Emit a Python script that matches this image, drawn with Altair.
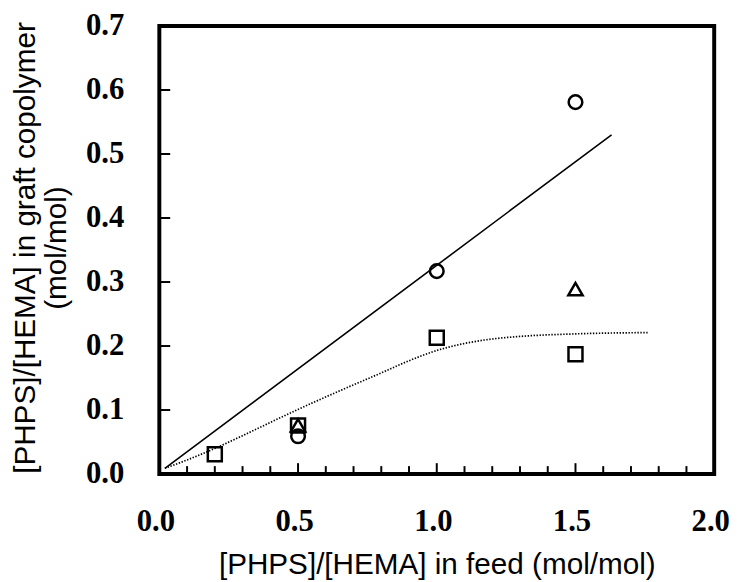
import altair as alt
import pandas as pd

# ---- data ----
circle_feed = [0.5, 1.0, 1.5]
circle_graft = [0.059, 0.317, 0.581]

triangle_feed = [0.5, 1.5]
triangle_graft = [0.076, 0.289]

square_feed = [0.2, 0.5, 1.0, 1.5]
square_graft = [0.031, 0.076, 0.213, 0.187]

solid_feed = [0.02, 1.63]
solid_graft = [0.009, 0.530]

dotted_feed = [0.02, 0.1, 0.2, 0.3, 0.5, 0.65, 0.8, 0.9, 1.0, 1.1, 1.2, 1.3, 1.5, 1.76]
dotted_graft = [0.009, 0.022, 0.040, 0.060, 0.101, 0.130, 0.158, 0.177, 0.193, 0.204, 0.211, 0.215, 0.219, 0.221]

x_tick_labels = [0.0, 0.5, 1.0, 1.5, 2.0]
y_tick_labels = [0.0, 0.1, 0.2, 0.3, 0.4, 0.5, 0.6, 0.7]
x_minor_ticks = [0.1, 0.2, 0.3, 0.4, 0.6, 0.7, 0.8, 0.9, 1.1, 1.2, 1.3, 1.4, 1.6, 1.7, 1.8, 1.9]
x_major_ticks = [0.5, 1.0, 1.5]
y_inner_ticks = [0.1, 0.2, 0.3, 0.4, 0.5, 0.6]
x_range = [0.0, 2.0]
y_range = [0.0, 0.7]

x_title = "[PHPS]/[HEMA] in feed (mol/mol)"
y_title = ["[PHPS]/[HEMA] in graft copolymer", "(mol/mol)"]

# ---- scales and axes ----
xscale = alt.Scale(domain=x_range, nice=False, zero=True)
yscale = alt.Scale(domain=y_range, nice=False, zero=True)

xaxis = alt.Axis(
    values=x_tick_labels, format=".1f", title=x_title,
    labelFont="Liberation Serif", labelFontWeight="bold", labelFontSize=31,
    labelPadding=33, labelFlush=False, labelOverlap=False, labelOffset=-4,
    titleFont="Liberation Sans", titleFontSize=30, titleFontWeight="normal",
    titleBaseline="alphabetic", titleY=101, titleX=280.5, titleAlign="center",
)
yaxis = alt.Axis(
    values=y_tick_labels, format=".1f", title=y_title,
    labelFont="Liberation Serif", labelFontWeight="bold", labelFontSize=31,
    labelPadding=36, labelOverlap=False, labelFlush=False,
    titleFont="Liberation Sans", titleFontSize=30, titleFontWeight="normal",
    titleAngle=270, titleBaseline="top", titleAlign="center",
    titleX=-150, titleY=224, titleLineHeight=31,
)


def X(field):
    return alt.X(field, type="quantitative", scale=xscale, axis=xaxis)


def Y(field):
    return alt.Y(field, type="quantitative", scale=yscale, axis=yaxis)


circles = pd.DataFrame({"feed": circle_feed, "graft": circle_graft})
triangles = pd.DataFrame({"feed": triangle_feed, "graft": triangle_graft})
squares = pd.DataFrame({"feed": square_feed, "graft": square_graft})
solid = pd.DataFrame({"feed": solid_feed, "graft": solid_graft})
dotted = pd.DataFrame({"feed": dotted_feed, "graft": dotted_graft})
xminor = pd.DataFrame({"feed": x_minor_ticks})
xmajor = pd.DataFrame({"feed": x_major_ticks})
yinner = pd.DataFrame({"graft": y_inner_ticks})
frame = pd.DataFrame({"x0": [x_range[0]], "x1": [x_range[1]], "y0": [y_range[0]], "y1": [y_range[1]]})

solid_layer = alt.Chart(solid).mark_line(color="black", strokeWidth=1.6).encode(
    x=X("feed"), y=Y("graft"))
dotted_layer = alt.Chart(dotted).mark_line(
    color="black", strokeWidth=1.7, strokeDash=[1.4, 1.6], interpolate="monotone"
).encode(x=X("feed"), y=Y("graft"))

circle_layer = alt.Chart(circles).mark_point(
    shape="circle", filled=False, size=190, strokeWidth=2.5, color="black", opacity=1
).encode(x=X("feed"), y=Y("graft"))
triangle_layer = alt.Chart(triangles).mark_point(
    shape="triangle-up", filled=False, size=210, strokeWidth=2.5, color="black", opacity=1
).encode(x=X("feed"), y=Y("graft"))
square_layer = alt.Chart(squares).mark_point(
    shape="square", filled=False, size=200, strokeWidth=2.5, color="black", opacity=1
).encode(x=X("feed"), y=Y("graft"))

xminor_layer = alt.Chart(xminor).mark_tick(
    orient="vertical", size=8, thickness=2, yOffset=-4, color="black", opacity=1
).encode(x=X("feed"), y=alt.Y(datum=0, scale=yscale, axis=yaxis))
xmajor_layer = alt.Chart(xmajor).mark_tick(
    orient="vertical", size=11, thickness=2, yOffset=-5.5, color="black", opacity=1
).encode(x=X("feed"), y=alt.Y(datum=0, scale=yscale, axis=yaxis))
yinner_layer = alt.Chart(yinner).mark_tick(
    orient="horizontal", size=11, thickness=2, xOffset=5.5, color="black", opacity=1
).encode(y=Y("graft"), x=alt.X(datum=0, scale=xscale, axis=xaxis))

frame_layer = alt.Chart(frame).mark_rect(
    filled=False, fillOpacity=0, stroke="black", strokeWidth=4, opacity=1
).encode(
    x=X("x0"), x2="x1", y=Y("y0"), y2="y1"
)

chart = alt.layer(
    solid_layer, dotted_layer, xminor_layer, xmajor_layer, yinner_layer,
    circle_layer, triangle_layer, square_layer, frame_layer,
).properties(
    width=561, height=453,
    autosize=alt.AutoSizeParams(type="none"),
    padding={"left": 153, "top": 15, "right": 18, "bottom": 110},
    background="white",
).configure_view(
    stroke=None
).configure_axis(
    grid=False, domain=False, ticks=False, tickSize=0,
    labelColor="black", titleColor="black",
)

chart.save("out.html", embed_options={"renderer": "svg", "actions": False})
